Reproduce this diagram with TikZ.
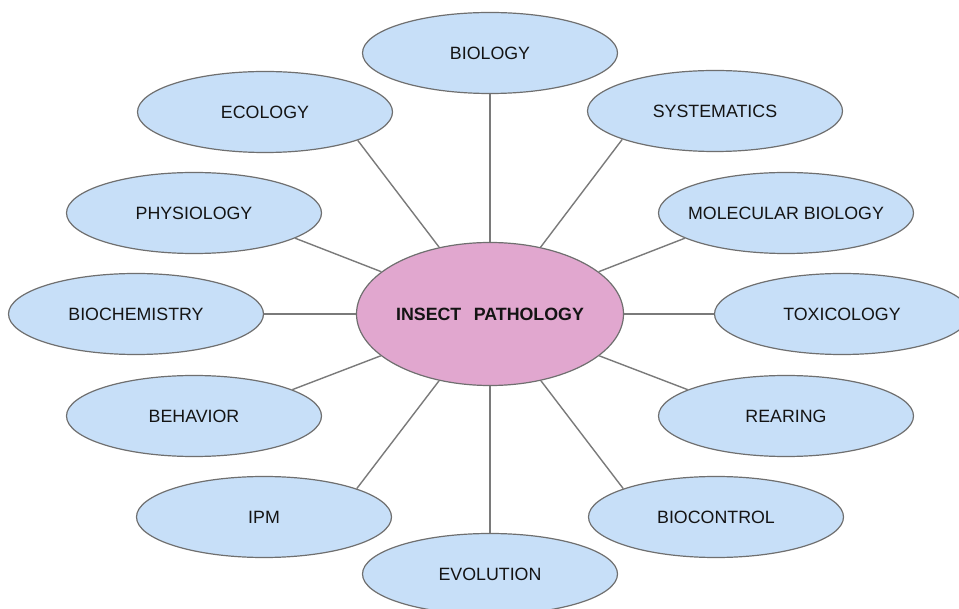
\documentclass[tikz,border=0pt]{standalone}
\usepackage{fontspec}
\setmainfont{Liberation Sans}
\usetikzlibrary{shapes.geometric}
\definecolor{topicfill}{HTML}{C7DFF8}
\definecolor{corefill}{HTML}{E1A7CF}
\definecolor{edgegray}{HTML}{6F6F6F}
\definecolor{spokegray}{HTML}{7A7A7A}
\definecolor{txt}{HTML}{141414}
\newcommand\ctrtext[1]{\makebox[0pt][c]{#1}}
\tikzset{
  topic/.style={ellipse, draw=edgegray, line width=1.2pt, fill=topicfill,
    inner sep=0pt, minimum width=255pt, minimum height=81pt,
    text=txt, font=\fontsize{17.8pt}{20pt}\selectfont},
  core/.style={ellipse, draw=edgegray, line width=1.2pt, fill=corefill,
    inner sep=0pt, minimum width=267pt, minimum height=143pt,
    text=txt, font=\fontsize{17.8pt}{20pt}\selectfont\bfseries},
  spoke/.style={draw=spokegray, line width=1.4pt}
}
\begin{document}
\begin{tikzpicture}[x=1pt,y=-1pt]
\clip (0,0) rectangle (959,609);
\fill[white] (0,0) rectangle (959,609);
\node[core] (c) at (490,314) {\ctrtext{INSECT\hspace{0.7em}PATHOLOGY}};
\node[topic] (bio) at (490,53) {\ctrtext{BIOLOGY}};
\node[topic] (sys) at (715,111) {\ctrtext{SYSTEMATICS}};
\node[topic] (eco) at (265,112) {\ctrtext{ECOLOGY}};
\node[topic] (mol) at (786,213) {\ctrtext{MOLECULAR BIOLOGY}};
\node[topic] (phy) at (194,213) {\ctrtext{PHYSIOLOGY}};
\node[topic] (tox) at (842,314) {\ctrtext{TOXICOLOGY}};
\node[topic] (bch) at (136,314) {\ctrtext{BIOCHEMISTRY}};
\node[topic] (rea) at (786,416) {\ctrtext{REARING}};
\node[topic] (beh) at (194,416) {\ctrtext{BEHAVIOR}};
\node[topic] (bct) at (716,517) {\ctrtext{BIOCONTROL}};
\node[topic] (ipm) at (264,517) {\ctrtext{IPM}};
\node[topic] (evo) at (490,574) {\ctrtext{EVOLUTION}};
\draw[spoke] (c) -- (bio.south);
\draw[spoke] (c) -- (evo.north);
\draw[spoke] (c) -- (tox.west);
\draw[spoke] (c) -- (bch.east);
\draw[spoke] (c) -- (eco.343);
\draw[spoke] (c) -- (sys.197);
\draw[spoke] (c) -- (phy.346);
\draw[spoke] (c) -- (mol.194);
\draw[spoke] (c) -- (beh.15);
\draw[spoke] (c) -- (rea.165);
\draw[spoke] (c) -- (ipm.17);
\draw[spoke] (c) -- (bct.163);
\end{tikzpicture}
\end{document}
